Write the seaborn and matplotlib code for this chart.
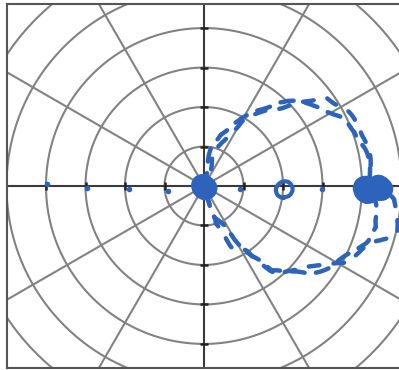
import numpy as np
import pandas as pd
import matplotlib
matplotlib.use("Agg")
import matplotlib.pyplot as plt
import seaborn as sns

sns.set_style("white")

# first pass of the closed loop, traced from the pole counter-clockwise
loop_a_x = [0.00, 0.08, 0.20, 0.41, 0.78, 1.29, 1.87, 2.43, 2.94, 3.44, 3.82, 4.08,
            4.20, 4.25, 4.35, 4.38, 4.13, 3.70, 3.19, 2.68, 2.18, 1.72, 1.22, 0.91,
            0.61, 0.28, 0.10, 0.00]
loop_a_y = [0.00, 0.56, 0.94, 1.32, 1.59, 1.87, 2.13, 2.13, 2.00, 1.75, 1.37, 0.94,
            0.43, -0.08, -0.58, -1.04, -1.39, -1.72, -2.05, -2.23, -2.18, -2.10, -1.80, -1.47,
            -1.14, -0.78, -0.33, 0.00]

# second pass, slightly offset, with the excursion past the far cluster
loop_b_x = [0.00, 0.15, 0.25, 0.53, 0.99, 1.54, 2.18, 2.68, 3.11, 3.62, 3.95, 4.15,
            4.25, 4.50, 4.80, 4.93, 4.88, 4.66, 4.36, 4.05, 3.62, 3.01, 2.43, 1.85,
            1.42, 1.04, 0.73, 0.53, 0.28, 0.15, 0.00]
loop_b_y = [0.00, 0.43, 0.81, 1.19, 1.65, 1.90, 2.05, 2.13, 2.25, 1.90, 1.49, 0.99,
            0.30, -0.05, -0.35, -0.75, -1.15, -1.30, -1.42, -1.59, -1.90, -2.03, -2.05, -2.28,
            -1.90, -1.65, -1.59, -1.22, -0.96, -0.46, 0.00]

# isolated points along the polar axis
dot_x = [-3.97, -2.96, -1.90, -0.92, 0.92, 2.99]
dot_y = [0.05, -0.06, -0.08, -0.12, -0.08, -0.08]

# small loop on the axis
ring_x = [2.02]
ring_y = [-0.08]

# dense clusters (pole and far end)
blob_x = [0.00, 4.12, 4.45]
blob_y = [-0.03, -0.10, -0.05]
blob_d = [26, 28, 26]  # diameters in pixels

ring_radii = [1, 2, 3, 4, 5, 6, 7]
spoke_angles = np.arange(0, 180, 30)

blue = "#2e63bb"
grid_col = "#828282"
axis_col = "#3a3a3a"

fig = plt.figure(figsize=(3.99, 3.70), dpi=100)
ax = fig.add_axes([6.5 / 399, 2 / 370, 395 / 399, 364 / 370])
ax.set_xlim(-5.0, 5.0)
ax.set_ylim(-4.61, 4.61)

# polar grid: rings and spokes
t = np.linspace(0, 2 * np.pi, 400)
for rr in ring_radii:
    ax.plot(rr * np.cos(t), rr * np.sin(t), color=grid_col, lw=1.5, zorder=1)
for a in spoke_angles:
    if a in (0, 90):
        continue
    ang = np.deg2rad(a)
    ax.plot([-8 * np.cos(ang), 8 * np.cos(ang)], [-8 * np.sin(ang), 8 * np.sin(ang)],
            color=grid_col, lw=1.5, zorder=1)
ax.axhline(0, color=axis_col, lw=1.5, zorder=2)
ax.axvline(0, color=axis_col, lw=1.5, zorder=2)

# tick marks where rings cross the axes
tk = np.array([r for r in ring_radii if r <= 4] + [-r for r in ring_radii if r <= 4])
ax.plot(tk, np.zeros_like(tk), ls="none", marker="|", ms=6, mew=1.8, color="#222222", zorder=2)
ax.plot(np.zeros_like(tk), tk, ls="none", marker="_", ms=6, mew=1.8, color="#222222", zorder=2)

# dashed loop, two passes
for lx, ly, dash, off in [(loop_a_x, loop_a_y, (3.0, 2.6), 0.0),
                          (loop_b_x, loop_b_y, (2.4, 3.2), 1.5)]:
    df_loop = pd.DataFrame({"x": lx, "y": ly})
    sns.lineplot(data=df_loop, x="x", y="y", sort=False, estimator=None, ax=ax,
                 color=blue, lw=3.2, zorder=4)
    ln = ax.lines[-1]
    ln.set_linestyle((off, dash))
    ln.set_dash_capstyle("round")
    ln.set_sketch_params(scale=1.2, length=60, randomness=3)

# dots on the axis
sns.scatterplot(x=dot_x, y=dot_y, ax=ax, color=blue, s=16, linewidth=0, zorder=5)

# small loop
sc = ax.scatter(ring_x, ring_y, s=(16 * 0.72) ** 2, facecolors="none",
                edgecolors=blue, linewidths=3, zorder=5)
sc.set_sketch_params(scale=0.8, length=40, randomness=3)

# clusters
sizes = [(d * 0.72) ** 2 for d in blob_d]
bl = ax.scatter(blob_x, blob_y, s=sizes, color=blue, linewidths=0, zorder=5)
bl.set_sketch_params(scale=0.8, length=40, randomness=3)

ax.set_xlabel("")
ax.set_ylabel("")
ax.set_xticks([])
ax.set_yticks([])
for s in ax.spines.values():
    s.set_color("#555555")
    s.set_linewidth(1.5)

fig.savefig("out.png", dpi=100)
